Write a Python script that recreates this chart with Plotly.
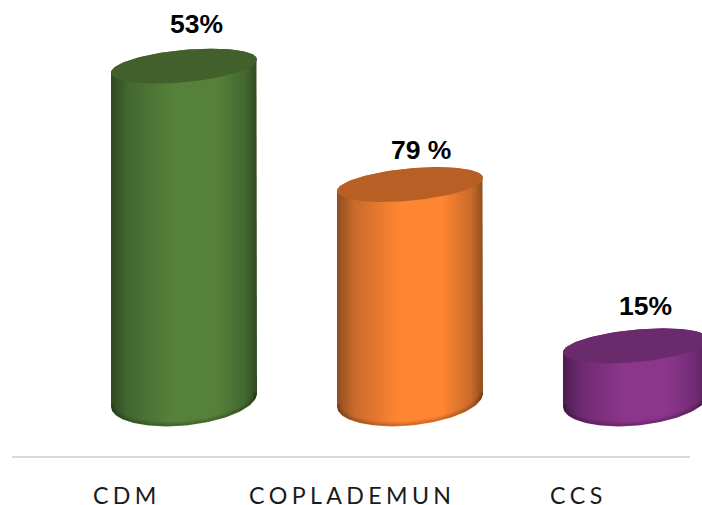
import numpy as np
import plotly.graph_objects as go

categories = ["CDM", "COPLADEMUN", "CCS"]
bar_heights = [53, 34.2, 8.6]
value_labels = ["53%", "79 %", "15%"]
centre_colors = ["#56813A", "#FF8533", "#8B368B"]
edge_colors = ["#31491F", "#8E4E20", "#4C1D4E"]
mid_colors = ["#436830", "#C96A2A", "#6E2A70"]
cap_colors = ["#42602B", "#B75F25", "#692B6B"]
label_dx = [12, 11, 9]
label_dy = [42, 35, 40]

W, H = 702, 505
PX_PER_CAT = 226
PX_PER_UNIT = 6.3
X0_PX, Y0_PX = 184, 400
HALF_W = 73 / PX_PER_CAT
SKEW = 6.5 / PX_PER_UNIT
CAP_B = 16.2 / PX_PER_UNIT
BOT_B = 25.6 / PX_PER_UNIT


def ring(cx, cy, b, t, shrink=1.0):
    return cx + HALF_W * shrink * np.cos(t), cy + SKEW * shrink * np.cos(t) + b * shrink * np.sin(t)


fig = go.Figure()
for i, (h, cc, ec, mc, cap) in enumerate(zip(bar_heights, centre_colors, edge_colors, mid_colors, cap_colors)):
    t_bot = np.linspace(np.pi, 2 * np.pi, 80)
    t_top = np.linspace(0, np.pi, 80)
    xb, yb = ring(i, 0, BOT_B, t_bot)
    xt, yt = ring(i, h, CAP_B, t_top)
    fig.add_trace(go.Scatter(
        x=np.r_[xb, xt], y=np.r_[yb, yt], mode="lines", line=dict(width=0), fill="toself",
        fillgradient=dict(type="horizontal", start=i - HALF_W, stop=i + HALF_W,
                          colorscale=[[0, ec], [0.12, mc], [0.42, cc], [0.72, cc], [0.92, mc], [1, ec]]),
        hoverinfo="skip", showlegend=False))
    for alpha, lw in [(0.05, 4), (0.07, 2.8), (0.10, 1.6)]:
        xe, ye = ring(i, lw / 2 / PX_PER_UNIT, BOT_B, t_bot, 1 - lw / 2 / 73)
        fig.add_trace(go.Scatter(x=xe, y=ye, mode="lines",
                                 line=dict(color=f"rgba(0,0,0,{alpha})", width=lw),
                                 hoverinfo="skip", showlegend=False))
    t_full = np.linspace(0, 2 * np.pi, 160)
    xc, yc = ring(i, h, CAP_B, t_full)
    fig.add_trace(go.Scatter(x=xc, y=yc, mode="lines", line=dict(width=0), fill="toself",
                             fillcolor=cap, hoverinfo="skip", showlegend=False))
    fig.add_annotation(x=i, y=h, xref="x", yref="y", text=f"<b>{value_labels[i]}</b>", showarrow=False,
                       xshift=label_dx[i], yshift=label_dy[i],
                       font=dict(family="Liberation Sans, sans-serif", size=26.5, color="#000000"))
    fig.add_annotation(x=i, y=(Y0_PX - 495) / PX_PER_UNIT, xref="x", yref="y",
                       text="\u2009\u200a".join(categories[i]), showarrow=False, xshift=-60,
                       font=dict(family="Lato, sans-serif", size=23.2, color="#1A1A1A"))

fig.add_shape(type="line", xref="paper", yref="paper", x0=12 / W, x1=690 / W, y0=48 / H, y1=48 / H,
              line=dict(color="#D9D9D9", width=2), layer="below")

fig.update_layout(
    width=W, height=H, margin=dict(l=0, r=0, t=0, b=0), paper_bgcolor="#FFFFFF", plot_bgcolor="#FFFFFF",
    showlegend=False,
    xaxis=dict(range=[-X0_PX / PX_PER_CAT, (W - X0_PX) / PX_PER_CAT], visible=False, fixedrange=True),
    yaxis=dict(range=[(Y0_PX - H) / PX_PER_UNIT, Y0_PX / PX_PER_UNIT], visible=False, fixedrange=True),
)
fig.write_html("out.html", config={"displayModeBar": False, "responsive": False},
               post_script="document.body.style.margin='0';")
